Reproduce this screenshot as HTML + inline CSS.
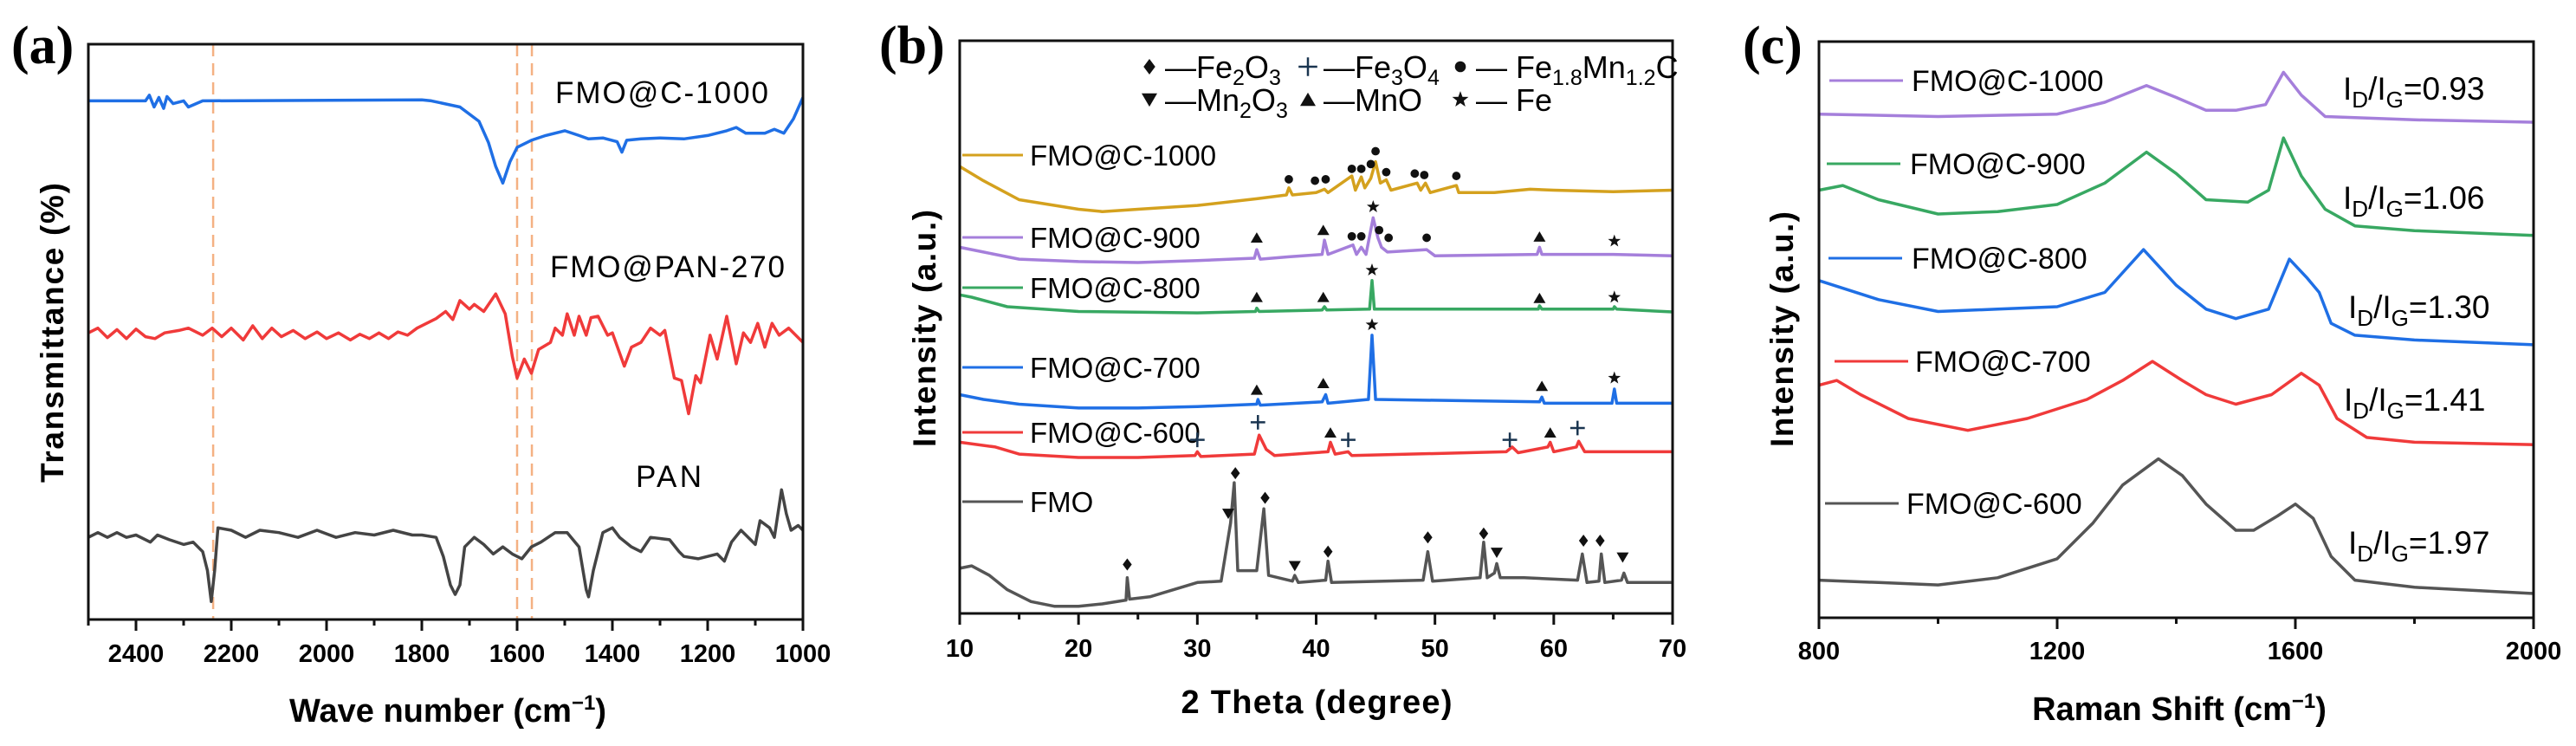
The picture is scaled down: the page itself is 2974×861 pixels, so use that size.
<!DOCTYPE html>
<html><head><meta charset="utf-8">
<style>
html,body{margin:0;padding:0;background:#fff;}
svg{display:block;font-family:"Liberation Sans",Arial,sans-serif;}
</style></head>
<body>
<svg id="fig" width="2974" height="861" viewBox="0 0 2974 861" xmlns="http://www.w3.org/2000/svg"></svg>
<script>
// ===== Panel (a) FTIR data =====
const ftirBlueX=[2500,2380,2372,2362,2352,2342,2335,2322,2300,2290,2260,1800,1780,1720,1680,1660,1645,1630,1615,1600,1570,1540,1500,1470,1450,1420,1390,1380,1370,1340,1300,1250,1200,1160,1140,1120,1080,1060,1040,1020,1000];
const ftirBlueY=[118.8,118.8,120,117.5,119.5,117.2,119.7,118.2,118.8,117.5,118.8,119,118.8,117.5,114.5,110,105,101.5,106,109,110.5,111.5,112.5,111.5,110.8,111,110.2,108,110.5,110.8,111,110.8,111.5,112.5,113.2,112,112,112.8,112,115,119.5];
const ftirRedX=[2500,2480,2460,2440,2420,2400,2380,2360,2340,2310,2290,2260,2240,2220,2200,2175,2155,2135,2115,2095,2070,2045,2020,2000,1975,1950,1930,1910,1890,1870,1850,1830,1810,1790,1770,1750,1735,1720,1700,1690,1670,1645,1625,1610,1600,1585,1570,1555,1530,1520,1505,1495,1480,1470,1455,1445,1430,1410,1400,1375,1360,1340,1320,1300,1290,1270,1255,1240,1225,1215,1195,1180,1160,1140,1125,1110,1095,1080,1065,1050,1030,1000];
const ftirRedY=[70,71,69,70.7,68.8,70.8,69.2,68.8,70,70.5,71,69.5,71,69.2,71,68.5,71.5,68.8,71,69.2,70.5,68.8,70.2,68.8,70,68.5,69.7,68.8,70,68.8,70.2,69.5,71,72,73,74.5,72.8,76.8,75,76,74.5,78.2,74,65,60.5,64.5,61.5,66.5,68,71,69.5,74,69.5,73.5,69.5,73.2,73.5,69.5,70,63,67,68,71,69.5,70.5,60.5,60,53,61,59.5,69.5,64.5,73.5,63.5,70,68,72,67,72,69.5,71,68];
const ftirBlackX=[2500,2480,2460,2440,2420,2400,2380,2370,2355,2330,2300,2280,2260,2250,2242,2235,2228,2200,2170,2140,2100,2060,2020,1980,1940,1900,1860,1820,1800,1770,1755,1740,1730,1720,1710,1690,1670,1650,1630,1610,1590,1570,1550,1520,1495,1470,1455,1450,1440,1420,1400,1385,1360,1340,1320,1280,1260,1250,1220,1200,1180,1165,1150,1130,1115,1100,1090,1070,1060,1045,1035,1025,1010,1000];
const ftirBlackY=[27,28,27,28,27,27.5,26.5,26,27.5,26.5,25.5,26,24,20,13.5,20,29,28.5,27,28.5,28,27,28.5,27,28,27.5,28.5,27.5,27.5,27,23,17,15,17,25,27,25.5,23.5,25,23.5,22.5,25,26,28,28,25,16,14.5,20,28,29,27,25,24,27,26.5,24,23,22.5,23,23.5,22,26,28.5,27,25.5,30.5,29,27,37,32,28.5,29.5,28.5];
const ftirDashX=[2238,1600,1569];
const ftirTicks=[2400,2200,2000,1800,1600,1400,1200,1000];
const ftirMinor=[2500,2300,2100,1900,1700,1500,1300,1100];

// ===== Panel (b) XRD data =====
const xrdGoldX=[10,12,15,20,22,25,30,35,37.5,37.7,38,40,40.7,41,43,43.3,43.8,44.1,44.6,45,45.4,45.9,46.3,48.5,48.8,49.2,49.6,51.8,52,55,58,60,65,70];
const xrdGoldY=[105,102,98,96,95.5,96,96.8,98.2,99,100.5,99,99.5,100.2,99.5,103,100,102.8,100.5,102.5,106,101.5,102.2,100,101.5,100,101.5,99.5,101,99.5,99.5,100.2,100,99.7,100];
const xrdPurpleX=[10,12,15,20,25,30,34.8,35,35.3,37.7,40.5,40.7,41,43.1,43.4,43.8,44.2,44.8,45.2,45.5,46,49.3,50,58.6,58.8,59,65,70];
const xrdPurpleY=[88,87,85.5,85,84.8,85.2,85.7,87.5,85.5,86,86.5,89.5,86.5,88.5,86.5,88,86.5,94.2,90,88,87,87.5,86.2,86.5,88,86.5,86.5,86.2];
const xrdGreenX=[10,11,14,20,30,34.9,35,35.2,40.5,40.7,40.9,44.5,44.7,44.9,58.7,58.8,59,65,65.1,65.3,70];
const xrdGreenY=[78,77.5,75.5,74.5,74.2,74.5,75.2,74.5,74.8,75.5,74.8,75,81,75,75,75.7,75,75,75.5,75,74.4];
const xrdBlueX=[10,12,15,20,25,30,35,35.1,35.3,40.5,40.8,41,44.4,44.7,45,58.8,59,59.2,64.9,65.1,65.3,70];
const xrdBlueY=[57,56,55,54.2,54.2,54.5,55,56,54.8,55.5,57,55.2,56,69.5,56,55.5,56.5,55.2,55.2,58.2,55.2,55.2];
const xrdRedX=[10,13,15,20,25,29.8,30,30.3,34.8,35.2,35.8,36.5,41,41.2,41.6,42.7,43,56,56.5,57,59.5,59.7,60,61.9,62.1,62.6,70];
const xrdRedY=[47,46,44.5,43.8,43.8,44.2,45,44,44.5,48.5,45.5,44.2,45,47,44.5,45,44.2,45,46,44.8,46,47,45,46,47.2,45,45];
const xrdGrayX=[10,11,12.5,14,16,18,20,22,24,24.1,24.3,26,28,30,32,32.8,33.1,33.4,35,35.6,36,38,38.2,38.5,40.8,41,41.3,49,49.4,49.8,53.8,54.1,54.4,55,55.2,55.5,57.5,62,62.4,62.8,63.8,64,64.3,65.7,65.9,66.2,70];
const xrdGrayY=[20.5,21,19,16,13.5,12.5,12.5,13,13.8,18.5,14,14.5,16,17.5,17.8,30,38.5,20,20,33,19,17.8,19,17.5,18,22,17.5,18,24,17.8,18.5,26,18.5,19.5,21.5,18.5,18.5,18,23.5,17.5,17.8,23.5,17.5,18,19.5,17.5,17.5];
const mkDiamondX=[24.1,33.2,35.7,41,49.4,54.1,62.5,63.9];
const mkDiamondY=[21.3,40.5,35.3,24,27,27.8,26.3,26.3];
const mkDownTriX=[32.6,38.2,55.2,65.8];
const mkDownTriY=[32,21,23.8,22.8];
const mkPlusX=[30,35.1,42.7,56.3,62];
const mkPlusY=[47.5,51.2,47.5,47.5,50];
const mkUpTriX=[41.2,59.7,35,40.6,59,35,40.6,58.8,35,40.6,58.8];
const mkUpTriY=[49,49,58,59.4,58.8,77.5,77.5,77.3,90,91.6,90.2];
const mkStarX=[44.7,65.1,44.7,65.1,44.8,65.1];
const mkStarY=[71.7,60.5,83.2,77.5,96.5,89.3];
const mkDotX=[43,43.8,45.3,46.1,49.3,37.7,39.9,40.8,43,43.8,44.6,45,45.9,48.3,49.1,51.8];
const mkDotY=[90.3,90.3,91.6,90,90,102.3,102,102.3,104.5,104.5,105.5,108.2,103.8,103.5,103.2,103];
const xrdTicks=[10,20,30,40,50,60,70];
const xrdMinor=[15,25,35,45,55,65];

// ===== Panel (c) Raman data =====
const ramanX600=[800,900,1000,1100,1200,1260,1310,1370,1410,1450,1500,1530,1570,1600,1630,1660,1700,1800,2000];
const ramanY600=[18,17.5,17,18.5,22.5,30,38,43.5,40,34,28.5,28.5,31.5,34,31,23,18,16.5,15.2];
const ramanX700=[800,830,870,950,1050,1150,1250,1310,1360,1410,1450,1500,1560,1610,1640,1670,1720,1800,2000];
const ramanY700=[59,60,57,52,49.5,52,56,60,64,60,57,55,57,61.5,59,52,48,47,46.5];
const ramanX800=[800,850,900,1000,1100,1200,1280,1345,1400,1450,1500,1555,1590,1620,1640,1660,1700,1800,2000];
const ramanY800=[81,79,77,74.5,75,75.5,78.5,87.5,80,75,73,75,85.5,81.5,78.5,72,69.5,68.5,67.5];
const ramanX900=[800,840,900,1000,1100,1200,1280,1350,1400,1450,1520,1555,1580,1610,1650,1700,1800,2000];
const ramanY900=[100,101,98,95,95.5,97,101.5,108,103.5,98,97.5,100,111,103,96,92.5,91.5,90.5];
const ramanX1000=[800,1000,1200,1280,1350,1400,1450,1500,1550,1580,1610,1650,1800,2000];
const ramanY1000=[116,115.5,116,118.5,122,119.5,116.8,116.8,118,124.8,120,115.5,114.8,114.3];
const ramanTicks=[800,1200,1600,2000];
const ramanMinor=[1000,1400,1800];

const NS="http://www.w3.org/2000/svg";
const svg=document.getElementById('fig');
function el(tag,attrs,parent){const e=document.createElementNS(NS,tag);for(const k in attrs)e.setAttribute(k,attrs[k]);(parent||svg).appendChild(e);return e;}
function lin(d0,d1,r0,r1){return v=>r0+(v-d0)*(r1-r0)/(d1-d0);}
const yV=v=>(1400-10*v)/1.822;

function line(xs,ys,sx,color,name,w){
  let d='';for(let i=0;i<xs.length;i++){d+=(i?'L':'M')+sx(xs[i]).toFixed(1)+','+yV(ys[i]).toFixed(1);}
  const p=el('path',{d:d,fill:'none',stroke:color,'stroke-width':w||3.5,'stroke-linejoin':'round'});
  
  
  return p;
}
function text(x,y,s,attrs,name){
  const t=el('text',Object.assign({x:x,y:y},attrs));t.innerHTML=s;
  
  
  return t;
}
function frame(x0,x1,y0,y1,name){
  const r=el('rect',{x:x0,y:y0,width:x1-x0,height:y1-y0,fill:'none',stroke:'#111','stroke-width':3});
  
  
}
function xaxis(sx,ticks,minor,yb,labelY,pfx){
  ticks.forEach(t=>{
    const l=el('line',{x1:sx(t),x2:sx(t),y1:yb,y2:yb+13,stroke:'#111','stroke-width':3});
    
    
    text(sx(t),labelY,String(t),{'font-size':29,'font-weight':'bold','text-anchor':'middle','dominant-baseline':'central'},pfx+'-tick-label');
  });
  minor.forEach(t=>{
    const l=el('line',{x1:sx(t),x2:sx(t),y1:yb,y2:yb+7,stroke:'#111','stroke-width':3});
    
    
  });
}
const sup='<tspan font-size="24" dy="-14">−1</tspan><tspan dy="14">)</tspan>';

// ---------- Panel (a) ----------
const sxA=lin(2500,1000,102,927);
text(13,73,'(a)',{'font-family':'Liberation Serif,serif','font-size':62,'font-weight':'bold'},'panel-a-label');
ftirDashX.forEach(w=>{
  const l=el('line',{x1:sxA(w),x2:sxA(w),y1:51,y2:715,stroke:'#f4b183','stroke-width':2.5,'stroke-dasharray':'14,8'});
  
  
});
line(ftirBlueX,ftirBlueY,sxA,'#1f6fe5','ftir-fmo-c-1000-line');
line(ftirRedX,ftirRedY,sxA,'#f03a3a','ftir-fmo-pan-270-line');
line(ftirBlackX,ftirBlackY,sxA,'#444','ftir-pan-line');
frame(102,927,51,715,'panel-a-frame');
xaxis(sxA,ftirTicks,ftirMinor,715,755,'panel-a-x');
text(641,119,'FMO@C-1000',{'font-size':35,textLength:246},'label-fmo-c-1000');
text(635,320,'FMO@PAN-270',{'font-size':35,textLength:271},'label-fmo-pan-270');
text(734,562,'PAN',{'font-size':35,textLength:76},'label-pan');
text(0,0,'Transmittance (%)',{'font-size':37,'font-weight':'bold','text-anchor':'middle',transform:'translate(73,384) rotate(-90)',textLength:346},'panel-a-y-axis-title');
text(517,833,'Wave number (cm'+sup,{'font-size':38,'font-weight':'bold','text-anchor':'middle'},'panel-a-x-axis-title');

// ---------- Panel (b) ----------
const sxB=lin(10,70,1108,1931);
text(1015,73,'(b)',{'font-family':'Liberation Serif,serif','font-size':62,'font-weight':'bold'},'panel-b-label');
const bSeries=[[xrdGoldX,xrdGoldY,'#d4a11e','FMO@C-1000',179],[xrdPurpleX,xrdPurpleY,'#a57fdb','FMO@C-900',274],[xrdGreenX,xrdGreenY,'#38a862','FMO@C-800',332],[xrdBlueX,xrdBlueY,'#1f6fe5','FMO@C-700',424],[xrdRedX,xrdRedY,'#f03a3a','FMO@C-600',499],[xrdGrayX,xrdGrayY,'#555','FMO',579]];
bSeries.forEach(s=>{
  const nm=s[3].toLowerCase().replace('@','-');
  line(s[0],s[1],sxB,s[2],'xrd-'+nm+'-line');
  const l=el('line',{x1:1111,x2:1181,y1:s[4],y2:s[4],stroke:s[2],'stroke-width':3});
  
  
  text(1189,s[4]+12,s[3],{'font-size':33},'xrd-series-label');
});
function marker(type,cx,cy,s){
  let e;
  if(type==='diamond')e=el('polygon',{points:`${cx},${cy-s} ${cx+s*0.75},${cy} ${cx},${cy+s} ${cx-s*0.75},${cy}`,fill:'#111'});
  else if(type==='down')e=el('polygon',{points:`${cx-s},${cy-s*0.8} ${cx+s},${cy-s*0.8} ${cx},${cy+s*0.9}`,fill:'#111'});
  else if(type==='up')e=el('polygon',{points:`${cx-s},${cy+s*0.8} ${cx+s},${cy+s*0.8} ${cx},${cy-s*0.9}`,fill:'#111'});
  else if(type==='dot')e=el('circle',{cx:cx,cy:cy,r:s*0.7,fill:'#111'});
  else if(type==='plus')e=el('path',{d:`M${cx-s*1.2},${cy}L${cx+s*1.2},${cy}M${cx},${cy-s*1.2}L${cx},${cy+s*1.2}`,stroke:'#1a3550','stroke-width':2.5});
  else {let p='';for(let i=0;i<10;i++){const r=i%2?s*0.45:s*1.1;const a=-Math.PI/2+i*Math.PI/5;p+=(cx+r*Math.cos(a)).toFixed(1)+','+(cy+r*Math.sin(a)).toFixed(1)+' ';}e=el('polygon',{points:p,fill:'#111'});}
  return e;
}
function markers(type,xs,ys,name){
  xs.forEach((x,i)=>{
    const m=marker(type,sxB(x),yV(ys[i]),7);
    
    
  });
}
markers('diamond',mkDiamondX,mkDiamondY,'fe2o3-marker');
markers('down',mkDownTriX,mkDownTriY,'mn2o3-marker');
markers('plus',mkPlusX,mkPlusY,'fe3o4-marker');
markers('up',mkUpTriX,mkUpTriY,'mno-marker');
markers('star',mkStarX,mkStarY,'fe-marker');
markers('dot',mkDotX,mkDotY,'fe-mn-c-marker');
frame(1108,1931,47,708,'panel-b-frame');
xaxis(sxB,xrdTicks,xrdMinor,708,749,'panel-b-x');
const lg=[['diamond',1327,77,'—Fe<tspan font-size="25" dy="8">2</tspan><tspan dy="-8">O</tspan><tspan font-size="25" dy="8">3</tspan>'],
['plus',1510,77,'—Fe<tspan font-size="25" dy="8">3</tspan><tspan dy="-8">O</tspan><tspan font-size="25" dy="8">4</tspan>'],
['dot',1686,77,'— Fe<tspan font-size="25" dy="8">1.8</tspan><tspan dy="-8">Mn</tspan><tspan font-size="25" dy="8">1.2</tspan><tspan dy="-8">C</tspan>'],
['down',1327,115,'—Mn<tspan font-size="25" dy="8">2</tspan><tspan dy="-8">O</tspan><tspan font-size="25" dy="8">3</tspan>'],
['up',1510,115,'—MnO'],['star',1686,115,'— Fe']];
lg.forEach(g=>{
  const m=marker(g[0],g[1],g[2],9);
  
  
  text(g[1]+18,g[2]+13,g[3],{'font-size':36},'legend-entry');
});
text(0,0,'Intensity (a.u.)',{'font-size':37,'font-weight':'bold','text-anchor':'middle',transform:'translate(1080,379) rotate(-90)',textLength:274},'panel-b-y-axis-title');
text(1520,823,'2 Theta (degree)',{'font-size':38,'font-weight':'bold','text-anchor':'middle',textLength:313},'panel-b-x-axis-title');

// ---------- Panel (c) ----------
const sxC=lin(800,2000,2100,2925);
text(2012,73,'(c)',{'font-family':'Liberation Serif,serif','font-size':62,'font-weight':'bold'},'panel-c-label');
const cSeries=[[ramanX1000,ramanY1000,'#a57fdb','FMO@C-1000',93,2112,2207,'0.93',2705,102],
[ramanX900,ramanY900,'#38a862','FMO@C-900',189,2109,2205,'1.06',2705,228],
[ramanX800,ramanY800,'#1f6fe5','FMO@C-800',298,2111,2207,'1.30',2711,354],
[ramanX700,ramanY700,'#f03a3a','FMO@C-700',417,2118,2211,'1.41',2706,461],
[ramanX600,ramanY600,'#555','FMO@C-600',581,2107,2201,'1.97',2711,626]];
cSeries.forEach(s=>{
  const nm=s[3].toLowerCase().replace('@','-');
  line(s[0],s[1],sxC,s[2],'raman-'+nm+'-line');
  const l=el('line',{x1:s[5],x2:s[5]+85,y1:s[4],y2:s[4],stroke:s[2],'stroke-width':3});
  
  
  text(s[6],s[4]+12,s[3],{'font-size':34},'raman-series-label');
  text(s[8],s[9]+13,'I<tspan font-size="26" dy="9">D</tspan><tspan dy="-9">/I</tspan><tspan font-size="26" dy="9">G</tspan><tspan dy="-9">='+s[7]+'</tspan>',{'font-size':37},'id-ig-ratio-label');
});
frame(2100,2925,48,713,'panel-c-frame');
xaxis(sxC,ramanTicks,ramanMinor,713,752,'panel-c-x');
text(0,0,'Intensity (a.u.)',{'font-size':37,'font-weight':'bold','text-anchor':'middle',transform:'translate(2070,380) rotate(-90)',textLength:272},'panel-c-y-axis-title');
text(2516,831,'Raman Shift (cm'+sup,{'font-size':38,'font-weight':'bold','text-anchor':'middle'},'panel-c-x-axis-title');
</script>
</body></html>
